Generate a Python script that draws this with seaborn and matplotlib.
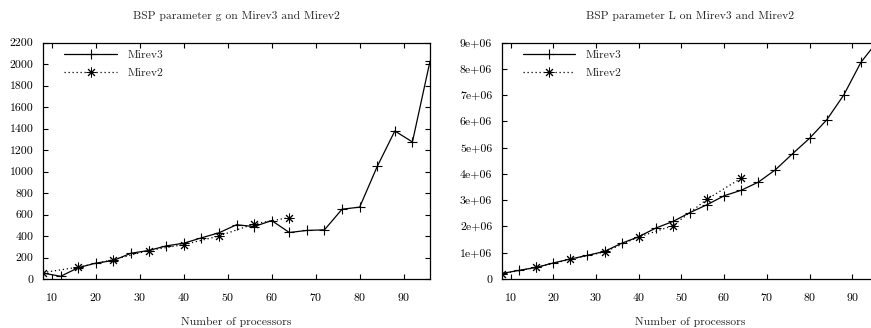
import numpy as np
import pandas as pd
import matplotlib
matplotlib.use('Agg')
import matplotlib.pyplot as plt
import seaborn as sns

# data
procs3 = [8, 12, 16, 20, 24, 28, 32, 36, 40, 44, 48, 52, 56, 60, 64, 68, 72, 76, 80, 84, 88, 92, 96]
g_mirev3 = [55, 25, 105, 148, 172, 240, 265, 308, 333, 383, 430, 505, 488, 544, 433, 452, 458, 650, 669, 1048, 1378, 1276, 2028]
L_mirev3 = [0.21e6, 0.33e6, 0.44e6, 0.61e6, 0.76e6, 0.90e6, 1.05e6, 1.36e6, 1.61e6, 1.94e6, 2.19e6,
            2.53e6, 2.83e6, 3.17e6, 3.38e6, 3.69e6, 4.16e6, 4.77e6, 5.36e6, 6.06e6, 7.01e6, 8.25e6, 9.08e6]

procs2 = [8, 16, 24, 32, 40, 48, 56, 64]
g_mirev2 = [60, 110, 180, 265, 320, 400, 513, 572]
L_mirev2 = [0.2e6, 0.44e6, 0.75e6, 1.03e6, 1.6e6, 2.03e6, 3.04e6, 3.84e6]

x_ticks = [10, 20, 30, 40, 50, 60, 70, 80, 90]
g_ticks = list(range(0, 2201, 200))
L_ticks = [0, 1e6, 2e6, 3e6, 4e6, 5e6, 6e6, 7e6, 8e6, 9e6]
L_labels = ['0', '1e+06', '2e+06', '3e+06', '4e+06', '5e+06', '6e+06', '7e+06', '8e+06', '9e+06']

titles = ['BSP parameter g on Mirev3 and Mirev2', 'BSP parameter L on Mirev3 and Mirev2']

sns.set_style('ticks')
plt.rcParams['font.family'] = ['cmr10', 'DejaVu Serif']
plt.rcParams['axes.formatter.use_mathtext'] = True
plt.rcParams['font.size'] = 8.5

fig = plt.figure(figsize=(8.71, 3.28), dpi=100)
ax1 = fig.add_axes([0.0494, 0.1494, 0.4443, 0.7204])
ax2 = fig.add_axes([0.5763, 0.1494, 0.4317, 0.7204])

panels = [
    (ax1, g_mirev3, g_mirev2, g_ticks, [str(t) for t in g_ticks], 2200),
    (ax2, L_mirev3, L_mirev2, L_ticks, L_labels, 9e6),
]

for i, (ax, y3, y2, yt, ylab, ytop) in enumerate(panels):
    d3 = pd.DataFrame({'p': procs3, 'v': y3})
    d2 = pd.DataFrame({'p': procs2, 'v': y2})
    sns.lineplot(data=d3, x='p', y='v', ax=ax, color='black', lw=0.9,
                 marker='+', markersize=7, markeredgewidth=0.8, markeredgecolor='black',
                 label='Mirev3')
    sns.lineplot(data=d2, x='p', y='v', ax=ax, color='black', lw=0.9, linestyle=(0, (1, 2.2)),
                 marker=(8, 2, 0), markersize=7, markeredgewidth=0.7, markeredgecolor='black',
                 label='Mirev2')
    ax.set_xlim(8, 96)
    ax.set_ylim(0, ytop)
    ax.set_xticks(x_ticks)
    ax.set_yticks(yt)
    ax.set_yticklabels(ylab)
    ax.tick_params(direction='in', length=3.5, width=0.8, top=True, right=True,
                   labelsize=8.5, colors='black')
    ax.tick_params(axis='x', pad=9)
    ax.tick_params(axis='y', pad=7)
    for s in ax.spines.values():
        s.set_linewidth(0.9)
        s.set_color('black')
    ax.set_title(titles[i], fontsize=8.4, pad=17)
    ax.set_xlabel('Number of processors', fontsize=8.4, labelpad=10)
    ax.set_ylabel('')
    ax.legend(loc='upper left', bbox_to_anchor=(0.055, 0.97), frameon=False,
              handlelength=4.5, handletextpad=0.9, labelspacing=0.7,
              borderpad=0, borderaxespad=0, numpoints=1, fontsize=8.4)

fig.savefig('out.png', dpi=100)
